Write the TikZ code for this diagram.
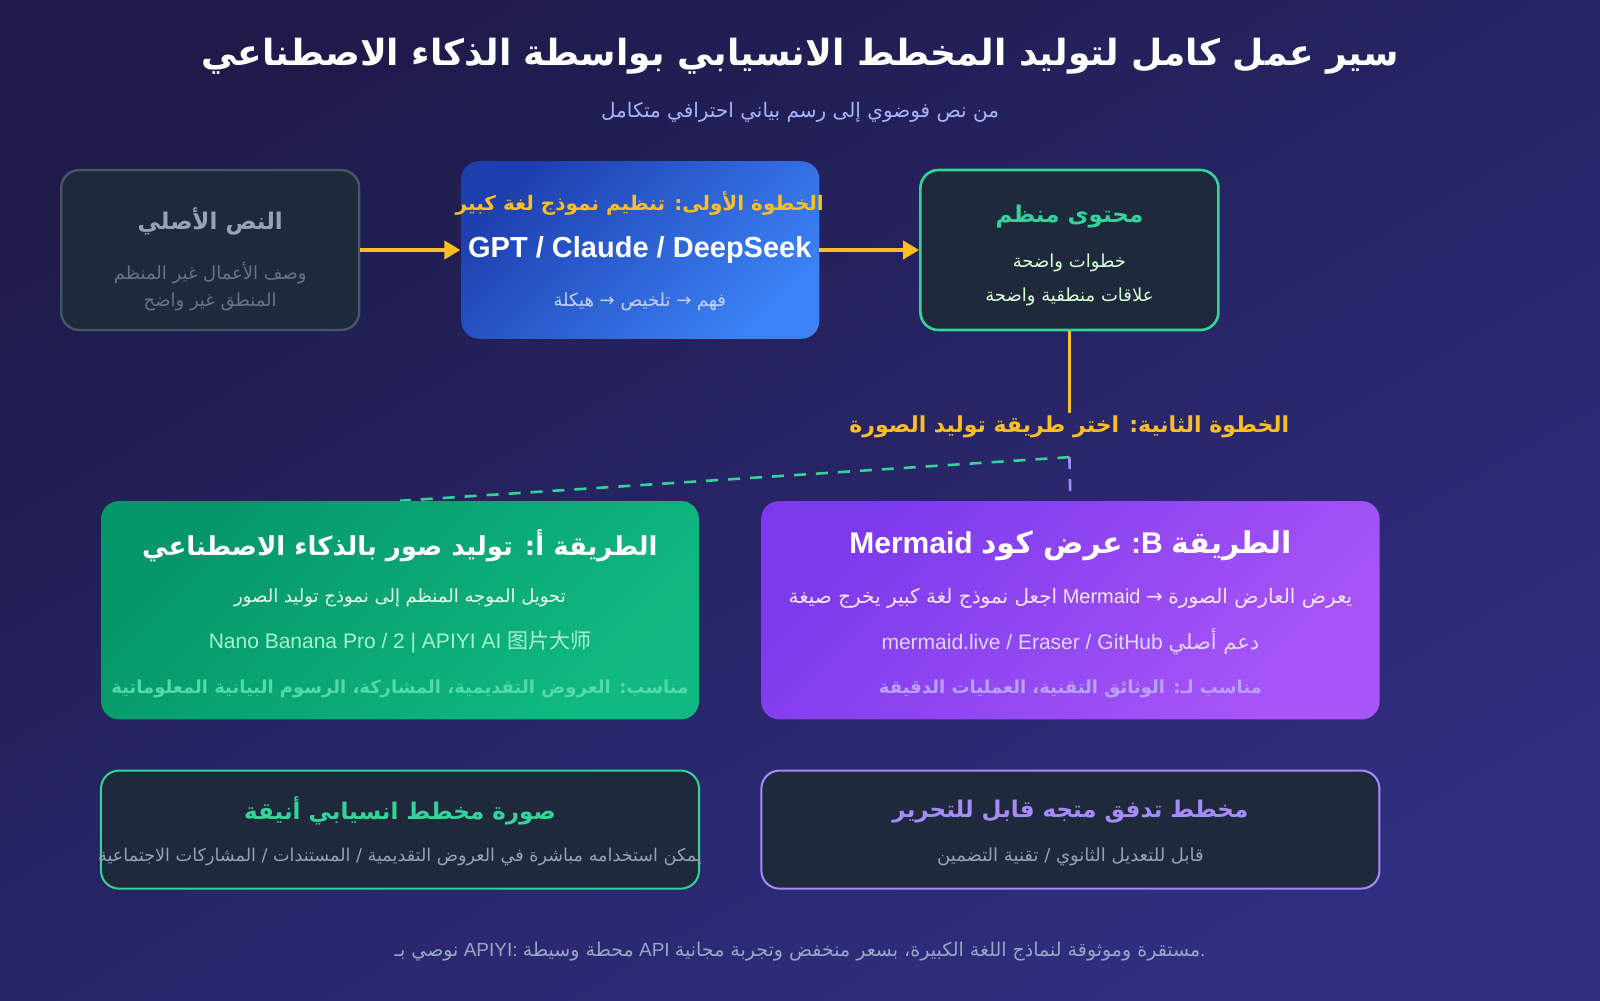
\documentclass[tikz,border=0pt]{standalone}
\usepackage{fontspec}
\setmainfont{Liberation Sans}
\newfontfamily\arfont[Script=Arabic]{DejaVu Sans}
\newfontfamily\cjkfont{Noto Sans CJK SC}
\TeXXeTstate=1
\newcommand{\AR}[1]{{\arfont\beginR #1\endR}}
\usetikzlibrary{arrows.meta}
\definecolor{bgA}{HTML}{1E1B4B}
\definecolor{bgB}{HTML}{312E81}
\definecolor{slate}{HTML}{1E293B}
\definecolor{slateb}{HTML}{475569}
\definecolor{grn}{HTML}{34D399}
\definecolor{yel}{HTML}{FBBF24}
\definecolor{lav}{HTML}{A5B4FC}
\definecolor{purp}{HTML}{A78BFA}
\definecolor{gtxt}{HTML}{94A3B8}
\definecolor{dtxt}{HTML}{64748B}
\definecolor{bl1}{HTML}{1E40AF}
\definecolor{bl2}{HTML}{3B82F6}
\definecolor{gr1}{HTML}{059669}
\definecolor{gr2}{HTML}{10B981}
\definecolor{pu1}{HTML}{7C3AED}
\definecolor{pu2}{HTML}{A855F7}
\begin{document}
\begin{tikzpicture}[x=0.5102pt,y=-0.5102pt,
  box/.style={rounded corners=9pt,inner sep=0pt},
  txt/.style={inner sep=1pt,font=\fontsize{9}{11}\selectfont},
  ttl/.style={inner sep=1pt,font=\fontsize{11.5}{13}\selectfont\bfseries},
  grad/.style 2 args={rounded corners=9pt,top color=#1,bottom color=#2,shading angle=45},
  yarrow/.style={draw=yel,line width=2pt,-{Triangle[length=8pt,width=9pt]}}]
\shade[top color=bgA,bottom color=bgB,shading angle=30] (0,0) rectangle (1568,980);
\useasboundingbox (0,0) rectangle (1568,980);
\node[inner sep=0pt,text=white,font=\fontsize{18}{21}\selectfont\bfseries] (title) at (784,55) {\AR{سير عمل كامل لتوليد المخطط الانسيابي بواسطة الذكاء الاصطناعي}};
\node[txt,text=lav,font=\fontsize{10}{12}\selectfont] (sub) at (784,110) {\AR{من نص فوضوي إلى رسم بياني احترافي متكامل}};
% row 1
\node[box,draw=slateb,line width=1.2pt,fill=slate,minimum width=149pt,minimum height=80pt] (raw) at (206,245) {};
\node[ttl,text=gtxt] (rawt) at (206,217) {\AR{النص الأصلي}};
\node[txt,text=dtxt] (raw1) at (206,268) {\AR{وصف الأعمال غير المنظم}};
\node[txt,text=dtxt] (raw2) at (206,296) {\AR{المنطق غير واضح}};
\node[box,minimum width=179pt,minimum height=89pt] (llm) at (627,245) {};
\shade[grad={bl1}{bl2}] (452,158) rectangle (803,332);
\node[ttl,text=yel,font=\fontsize{10}{12}\selectfont\bfseries] (llmt) at (627,199) {\AR{الخطوة الأولى: تنظيم نموذج لغة كبير}};
\node[inner sep=1pt,text=white,font=\fontsize{14.5}{16}\selectfont\bfseries] (llm1) at (627,245) {GPT / Claude / DeepSeek};
\node[txt,text=lav!60!white] (llm2) at (627,296) {\AR{فهم → تلخيص → هيكلة}};
\node[box,draw=grn,line width=1.3pt,fill=slate,minimum width=149pt,minimum height=80pt] (org) at (1048,245) {};
\node[ttl,text=grn] (orgt) at (1048,212) {\AR{محتوى منظم}};
\node[txt,text=green!15!white] (org1) at (1048,258) {\AR{خطوات واضحة}};
\node[txt,text=green!15!white] (org2) at (1048,291) {\AR{علاقات منطقية واضحة}};
\draw[yarrow] (raw.east) -- (llm.west);
\draw[yarrow] (llm.east) -- (org.west);
% step 2
\node[ttl,text=yel,font=\fontsize{11}{13}\selectfont\bfseries] (step2) at (1048,418) {\AR{الخطوة الثانية: اختر طريقة توليد الصورة}};
\draw[yel,line width=1.5pt] (org.south) -- (step2.north);
\coordinate (split) at (1048,448);
\node[box,minimum width=299pt,minimum height=109pt] (ma) at (392,598) {};
\node[box,minimum width=309pt,minimum height=109pt] (mb) at (1049,598) {};
\draw[grn,line width=1.3pt,dash pattern=on 6pt off 5pt] (split) -- (ma.north);
\draw[purp,line width=1.3pt,dash pattern=on 6pt off 5pt] (split) -- (mb.north);
\shade[grad={gr1}{gr2}] (99,491) rectangle (685,705);
\shade[grad={pu1}{pu2}] (746,491) rectangle (1352,705);
\node[ttl,text=white,font=\fontsize{13}{15}\selectfont\bfseries] (mat) at (392,535) {\AR{الطريقة أ: توليد صور بالذكاء الاصطناعي}};
\node[txt,text=green!8!white] (ma1) at (392,586) {\AR{تحويل الموجه المنظم إلى نموذج توليد الصور}};
\node[txt,text={rgb,255:red,167;green,243;blue,208},font=\fontsize{10.5}{12}\selectfont] (ma2) at (392,629) {Nano Banana Pro / 2 | APIYI AI {\cjkfont 图片大师}};
\node[txt,text=grn!85!white,font=\fontsize{9}{11}\selectfont\bfseries] (ma3) at (392,675) {\AR{مناسب: العروض التقديمية، المشاركة، الرسوم البيانية المعلوماتية}};
\node[ttl,text=white,font=\fontsize{15}{17}\selectfont\bfseries] (mbt) at (1049,535) {\beginL Mermaid \AR{عرض كود} :B \AR{الطريقة}\endL};
\node[txt,text=purple!10!white,font=\fontsize{10}{12}\selectfont] (mb1) at (1049,586) {\beginL\AR{اجعل نموذج لغة كبير يخرج صيغة} Mermaid {\arfont →} \AR{يعرض العارض الصورة}\endL};
\node[txt,text={rgb,255:red,221;green,214;blue,254},font=\fontsize{10.5}{12}\selectfont] (mb2) at (1049,629) {\beginL mermaid.live / Eraser / GitHub \AR{دعم أصلي}\endL};
\node[txt,text=purp!80!white,font=\fontsize{9}{11}\selectfont\bfseries] (mb3) at (1049,675) {\AR{مناسب لـ: الوثائق التقنية، العمليات الدقيقة}};
% results
\node[box,draw=grn,line width=1pt,fill=slate,minimum width=299pt,minimum height=59pt] (ra) at (392,813) {};
\node[ttl,text=grn] (rat) at (392,795) {\AR{صورة مخطط انسيابي أنيقة}};
\node[txt,text=gtxt,font=\fontsize{8.8}{11}\selectfont] (ra1) at (392,840) {\AR{يمكن استخدامه مباشرة في العروض التقديمية / المستندات / المشاركات الاجتماعية}};
\node[box,draw=purp,line width=1pt,fill=slate,minimum width=309pt,minimum height=59pt] (rb) at (1049,813) {};
\node[ttl,text=purp] (rbt) at (1049,795) {\AR{مخطط تدفق متجه قابل للتحرير}};
\node[txt,text=gtxt] (rb1) at (1049,840) {\AR{قابل للتعديل الثانوي / تقنية التضمين}};
\node[txt,text=gtxt!80!lav,font=\fontsize{9.5}{11}\selectfont] (foot) at (784,933) {\beginL\AR{نوصي بـ} APIYI: \AR{محطة وسيطة} API \AR{مستقرة وموثوقة لنماذج اللغة الكبيرة، بسعر منخفض وتجربة مجانية}.\endL};
\end{tikzpicture}
\end{document}
